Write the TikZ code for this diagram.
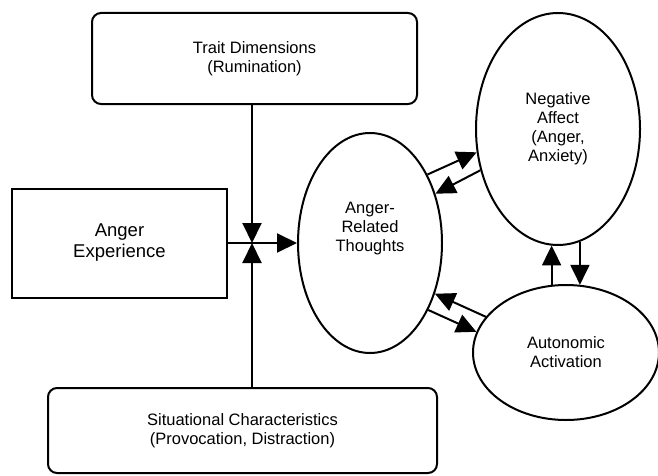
\documentclass[tikz,border=0pt]{standalone}
\usepackage{fontspec}
\setmainfont{Liberation Sans}
\usetikzlibrary{arrows.meta,shapes.geometric,calc}
\begin{document}
\begin{tikzpicture}[x=1pt,y=1pt,
  box/.style={draw, line width=2pt, inner sep=0pt, align=center, font=\fontsize{16.5}{19}\selectfont},
  rbox/.style={box, rounded corners=9pt},
  ell/.style={draw, ellipse, line width=2pt, inner sep=0pt, align=center, font=\fontsize{16.5}{19}\selectfont},
  arr/.style={line width=2pt, -{Triangle[length=20pt 0,width=19pt 0]}}
]
\useasboundingbox (0,0) rectangle (658,475);
\node[rbox, minimum width=325pt, minimum height=91pt] (trait) at (254.5,416.5) {Trait Dimensions\\(Rumination)};
\node[box, minimum width=215pt, minimum height=109pt, font=\fontsize{18.5}{21}\selectfont] (anger) at (119.5,232) {Anger\\Experience};
\node[rbox, minimum width=389pt, minimum height=85pt] (sit) at (242.5,44.5) {Situational Characteristics\\(Provocation, Distraction)};
\node[ell, minimum width=144pt, minimum height=220pt,
  label={[font=\fontsize{16.5}{19}\selectfont, align=center, yshift=14pt]center:{Anger-\\Related\\Thoughts}}] (art) at (370,232) {};
\node[ell, minimum width=164pt, minimum height=232pt] (na) at (558,346) {Negative\\Affect\\(Anger,\\Anxiety)};
\node[ell, minimum width=186pt, minimum height=135pt] (aut) at (566,122.5) {Autonomic\\Activation};
\coordinate (j) at (252,232);
\draw[arr] (trait.south -| j) -- (j);
\draw[arr] (sit.north -| j) -- (j);
\draw[arr] (anger.east) -- (art.west);
\draw[arr] (art.50) -- (na.196);
\draw[arr] (na.208) -- (art.37);
\draw[arr] (aut.156) -- (art.322);
\draw[arr] (art.311) -- (aut.167);
\draw[arr] (aut.102.7) -- (aut.102.7 |- na.266.5);
\draw[arr] (na.281) -- (na.281 |- aut.78);
\end{tikzpicture}
\end{document}
